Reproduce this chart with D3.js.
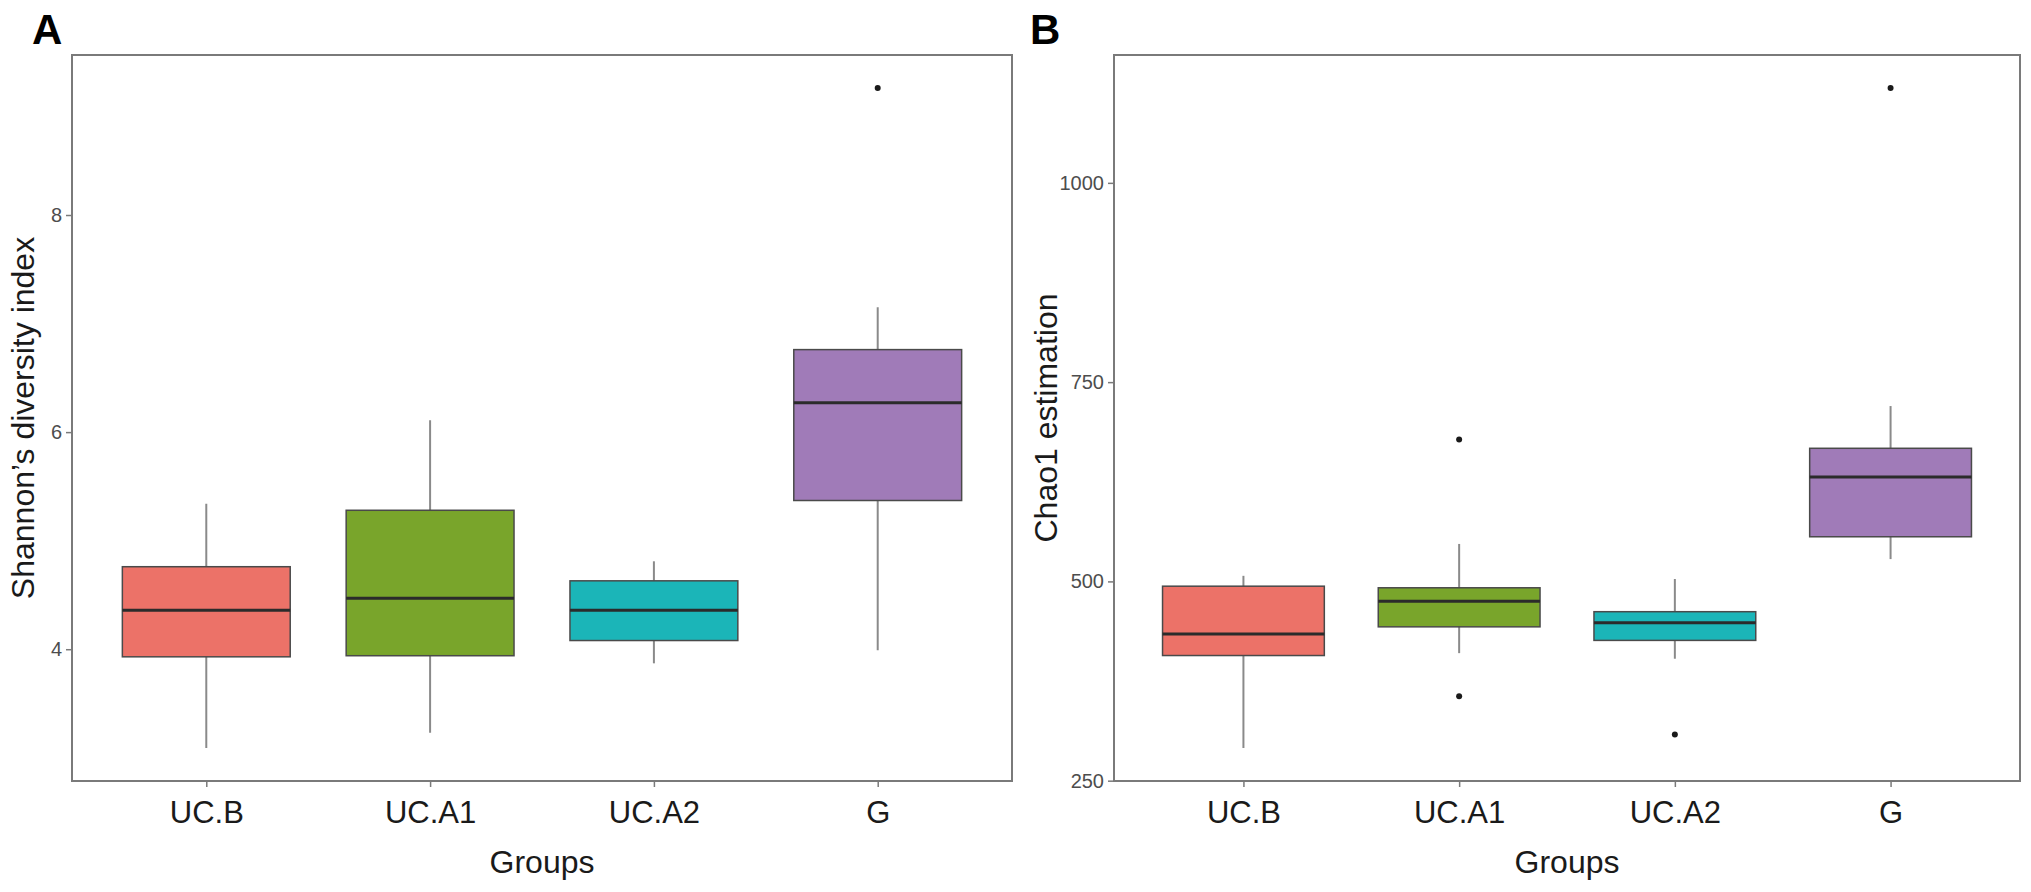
<!DOCTYPE html>
<html>
<head>
<meta charset="utf-8">
<script src="https://cdn.jsdelivr.net/npm/d3@7"></script>
<style>
  body { margin: 0; background: #fff; }
  text { font-family: "Liberation Sans", Arial, sans-serif; }
</style>
</head>
<body>
<div id="vis"></div>
<script>
const FRAME_WIDTH = 2031;
const FRAME_HEIGHT = 892;

const GROUPS = ["UC.B", "UC.A1", "UC.A2", "G"];
const FILL_COLORS = ["#EC7268", "#79A52B", "#1BB5B8", "#A07BB8"];

// Shannon diversity (panel A): lower whisker, Q1, median, Q3, upper whisker
const SHANNON_LOW = [3.09, 3.23, 3.87, 3.99];
const SHANNON_Q1 = [3.93, 3.94, 4.08, 5.37];
const SHANNON_MED = [4.36, 4.47, 4.36, 6.27];
const SHANNON_Q3 = [4.76, 5.28, 4.63, 6.76];
const SHANNON_HIGH = [5.34, 6.11, 4.81, 7.15];
const SHANNON_OUT = [[], [], [], [9.17]];
const SHANNON_TICKS = [4, 6, 8];

// Chao1 (panel B)
const CHAO_LOW = [291, 410, 403, 528];
const CHAO_Q1 = [407, 443, 426, 556];
const CHAO_MED = [434, 475, 448, 631];
const CHAO_Q3 = [494, 492, 462, 667];
const CHAO_HIGH = [507, 547, 503, 720];
const CHAO_OUT = [[], [678, 356], [308], [1119]];
const CHAO_TICKS = [250, 500, 750, 1000];

const SVG = d3.select("#vis")
  .append("svg")
    .attr("width", FRAME_WIDTH)
    .attr("height", FRAME_HEIGHT);

function drawPanel(p) {
  const M = p.margins;
  const W = M.right - M.left;
  const H = M.bottom - M.top;

  const stats = GROUPS.map((g, i) => ({
    group: g, low: p.low[i], q1: p.q1[i], med: p.med[i], q3: p.q3[i], high: p.high[i],
    out: p.out[i], color: FILL_COLORS[i]
  }));

  // y range like ggplot: data extent + 5% each side
  const all = [];
  stats.forEach(s => { all.push(s.low, s.high); s.out.forEach(o => all.push(o)); });
  const ext = d3.extent(all);
  const pad = (ext[1] - ext[0]) * 0.05;

  const Y_SCALE = d3.scaleLinear()
    .domain([ext[0] - pad, ext[1] + pad])
    .range([H, 0]);

  // discrete axis with 0.6 expansion on each side
  const X_SCALE = d3.scaleLinear()
    .domain([0.4, GROUPS.length + 0.6])
    .range([0, W]);
  const boxW = X_SCALE(0.75) - X_SCALE(0);

  const g = SVG.append("g")
    .attr("transform", "translate(" + M.left + "," + M.top + ")");

  // whiskers
  g.selectAll(".whisker")
    .data(stats)
    .enter()
    .append("line")
      .attr("x1", (d, i) => X_SCALE(i + 1))
      .attr("x2", (d, i) => X_SCALE(i + 1))
      .attr("y1", d => Y_SCALE(d.low))
      .attr("y2", d => Y_SCALE(d.high))
      .attr("stroke", "#8a8a8a")
      .attr("stroke-width", 2);

  // boxes
  g.selectAll(".box")
    .data(stats)
    .enter()
    .append("rect")
      .attr("x", (d, i) => X_SCALE(i + 1) - boxW / 2)
      .attr("y", d => Y_SCALE(d.q3))
      .attr("width", boxW)
      .attr("height", d => Y_SCALE(d.q1) - Y_SCALE(d.q3))
      .attr("fill", d => d.color)
      .attr("stroke", "#4a4a4a")
      .attr("stroke-width", 1.5);

  // medians
  g.selectAll(".median")
    .data(stats)
    .enter()
    .append("line")
      .attr("x1", (d, i) => X_SCALE(i + 1) - boxW / 2)
      .attr("x2", (d, i) => X_SCALE(i + 1) + boxW / 2)
      .attr("y1", d => Y_SCALE(d.med))
      .attr("y2", d => Y_SCALE(d.med))
      .attr("stroke", "#2b2b2b")
      .attr("stroke-width", 3);

  // outliers
  const outs = [];
  stats.forEach((s, i) => s.out.forEach(o => outs.push({x: i + 1, v: o})));
  g.selectAll(".outlier")
    .data(outs)
    .enter()
    .append("circle")
      .attr("cx", d => X_SCALE(d.x))
      .attr("cy", d => Y_SCALE(d.v))
      .attr("r", 3)
      .attr("fill", "#1a1a1a");

  // frame
  g.append("rect")
    .attr("width", W)
    .attr("height", H)
    .attr("fill", "none")
    .attr("stroke", "#7a7a7a")
    .attr("stroke-width", 2);

  // y axis
  const yAxis = g.append("g")
    .call(d3.axisLeft(Y_SCALE).tickValues(p.ticks).tickFormat(d3.format("d"))
      .tickSize(6).tickPadding(4));
  yAxis.select(".domain").remove();
  yAxis.selectAll(".tick line").attr("stroke", "#7a7a7a").attr("stroke-width", 1.5);
  yAxis.selectAll(".tick text")
    .attr("fill", "#4d4d4d")
    .attr("font-size", "20px")
    .attr("font-family", "Liberation Sans, Arial, sans-serif");

  // x axis
  const xAxis = g.append("g")
    .attr("transform", "translate(0," + H + ")")
    .call(d3.axisBottom(X_SCALE).tickValues(d3.range(1, GROUPS.length + 1))
      .tickFormat(d => GROUPS[d - 1]).tickSize(6).tickPadding(14));
  xAxis.select(".domain").remove();
  xAxis.selectAll(".tick line").attr("stroke", "#7a7a7a").attr("stroke-width", 1.5);
  xAxis.selectAll(".tick text")
    .attr("fill", "#1a1a1a")
    .attr("font-size", "31px")
    .attr("font-family", "Liberation Sans, Arial, sans-serif");

  // axis titles
  g.append("text")
    .attr("x", W / 2)
    .attr("y", H + 92)
    .attr("text-anchor", "middle")
    .attr("font-size", "32px")
    .attr("fill", "#1a1a1a")
    .text("Groups");

  g.append("text")
    .attr("transform", "translate(" + p.titleX + "," + (H / 2) + ") rotate(-90)")
    .attr("text-anchor", "middle")
    .attr("font-size", "32px")
    .attr("fill", "#1a1a1a")
    .text(p.yTitle);

  // panel letter
  SVG.append("text")
    .attr("x", p.letterX)
    .attr("y", 44)
    .attr("font-size", "42px")
    .attr("font-weight", "bold")
    .attr("fill", "#000")
    .text(p.letter);
}

drawPanel({
  margins: {left: 72, right: 1012, top: 55, bottom: 781},
  low: SHANNON_LOW, q1: SHANNON_Q1, med: SHANNON_MED, q3: SHANNON_Q3, high: SHANNON_HIGH,
  out: SHANNON_OUT, ticks: SHANNON_TICKS,
  yTitle: "Shannon\u2019s diversity index", titleX: -38,
  letter: "A", letterX: 32
});

drawPanel({
  margins: {left: 1114, right: 2020, top: 55, bottom: 781},
  low: CHAO_LOW, q1: CHAO_Q1, med: CHAO_MED, q3: CHAO_Q3, high: CHAO_HIGH,
  out: CHAO_OUT, ticks: CHAO_TICKS,
  yTitle: "Chao1 estimation", titleX: -57,
  letter: "B", letterX: 1030
});
</script>
</body>
</html>
